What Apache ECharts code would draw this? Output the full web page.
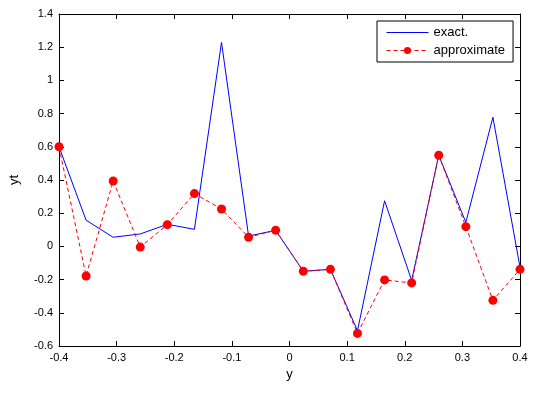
<!DOCTYPE html>
<html>
<head>
<meta charset="utf-8">
<script src="https://cdn.jsdelivr.net/npm/echarts@6/dist/echarts.min.js"></script>
<style>
html,body{margin:0;padding:0;background:#fff;}
#c{width:538px;height:393px;}
</style>
</head>
<body>
<div id="c"></div>
<script>
const xValues = [-0.4, -0.353, -0.306, -0.259, -0.212, -0.165, -0.118, -0.071, -0.024, 0.024, 0.071, 0.118, 0.165, 0.212, 0.259, 0.306, 0.353, 0.4];
const exactValues = [0.60, 0.158, 0.055, 0.075, 0.133, 0.103, 1.229, 0.062, 0.097, -0.150, -0.138, -0.508, 0.275, -0.205, 0.549, 0.145, 0.778, -0.125];
const approxValues = [0.60, -0.178, 0.394, -0.004, 0.131, 0.318, 0.225, 0.055, 0.097, -0.150, -0.138, -0.524, -0.202, -0.220, 0.549, 0.119, -0.325, -0.138];
const seriesNames = ['exact.', 'approximate'];
const xAxisName = 'y';
const yAxisName = 'yt';

const chart = echarts.init(document.getElementById('c'), null, {renderer: 'canvas'});
const font = 'Liberation Sans, Arial, sans-serif';
const axisCommon = {
  axisLine: {show: true, onZero: false, lineStyle: {color: '#000', width: 1}},
  axisTick: {show: true, inside: true, length: 5, lineStyle: {color: '#000'}},
  splitLine: {show: false}
};
chart.setOption({
  backgroundColor: '#fff',
  animation: false,
  grid: {left: 56, top: 14, width: 464, height: 332, containLabel: false},
  legend: {
    left: 377, top: 21,
    orient: 'vertical',
    backgroundColor: '#fff',
    borderColor: '#000', borderWidth: 1,
    padding: [5, 8, 5, 9],
    itemWidth: 42, itemHeight: 9, itemGap: 5,
    textStyle: {fontFamily: font, fontSize: 13, color: '#000'},
    lineStyle: {width: 1},
    data: [
      {name: seriesNames[0], itemStyle: {color: 'rgba(0,0,0,0)', borderWidth: 0, opacity: 0}},
      {name: seriesNames[1]}
    ]
  },
  xAxis: [
    Object.assign({
      type: 'value', min: -0.4, max: 0.4, interval: 0.1, position: 'bottom',
      name: xAxisName, nameLocation: 'middle', nameGap: 21,
      nameTextStyle: {fontFamily: font, fontSize: 13, color: '#000'},
      axisLabel: {fontFamily: font, fontSize: 11, color: '#000', margin: 6}
    }, axisCommon),
    Object.assign({
      type: 'value', min: -0.4, max: 0.4, interval: 0.1, position: 'top',
      axisLabel: {show: false}
    }, axisCommon)
  ],
  yAxis: [
    Object.assign({
      type: 'value', min: -0.6, max: 1.4, interval: 0.2, position: 'left',
      name: yAxisName, nameLocation: 'middle', nameGap: 38,
      nameTextStyle: {fontFamily: font, fontSize: 13, color: '#000'},
      axisLabel: {fontFamily: font, fontSize: 11, color: '#000', margin: 6}
    }, axisCommon),
    Object.assign({
      type: 'value', min: -0.6, max: 1.4, interval: 0.2, position: 'right',
      axisLabel: {show: false}
    }, axisCommon)
  ],
  series: [
    {
      name: seriesNames[0], type: 'line',
      data: xValues.map((x, i) => [x, exactValues[i]]),
      symbol: 'none', showSymbol: false,
      lineStyle: {color: '#0000ff', width: 1},
      itemStyle: {color: '#0000ff'},
      z: 2
    },
    {
      name: seriesNames[1], type: 'line',
      data: xValues.map((x, i) => [x, approxValues[i]]),
      symbol: 'circle', symbolSize: 9, showSymbol: true,
      lineStyle: {color: '#ff0000', width: 1, type: [4, 3]},
      itemStyle: {color: '#ff0000'},
      z: 3
    }
  ]
});
</script>
</body>
</html>
